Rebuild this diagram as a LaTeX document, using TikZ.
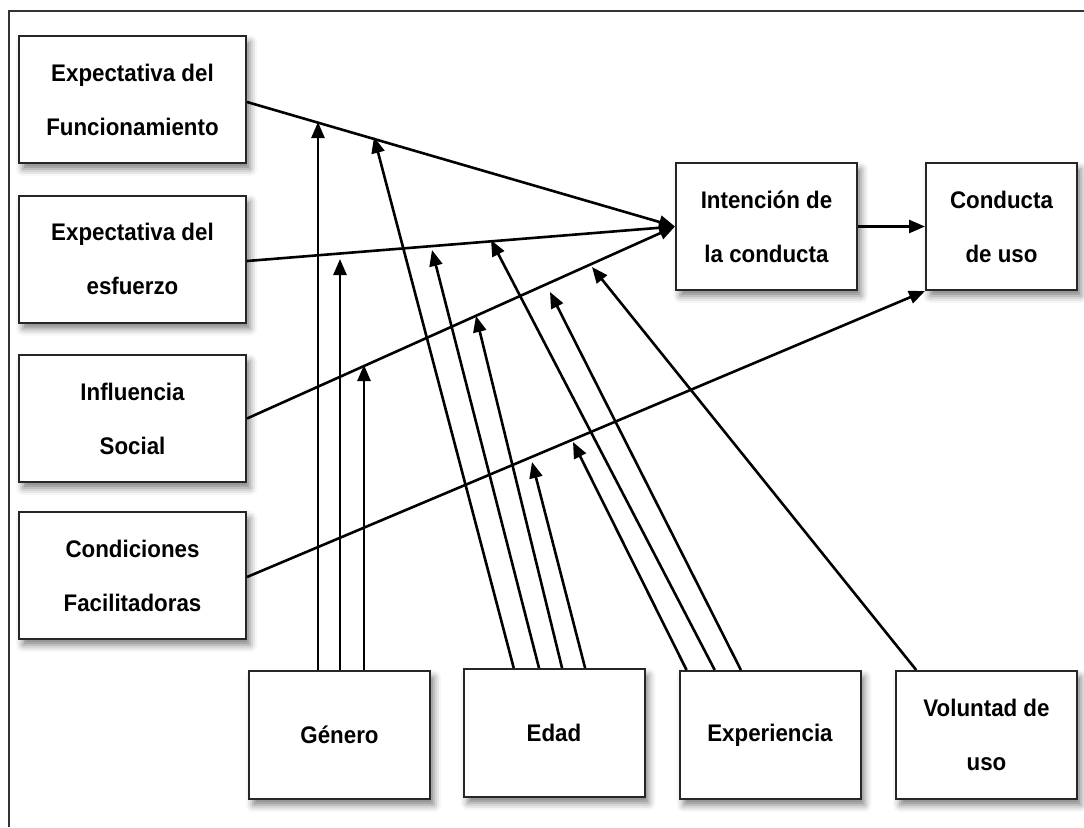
\documentclass[tikz,border=0pt]{standalone}
\usepackage{fontspec}
\setmainfont{Liberation Sans}[FakeStretch=0.93]
\usetikzlibrary{arrows.meta,calc,shadows.blur}
\begin{document}
\begin{tikzpicture}[x=0.5pt,y=-0.5pt,
  box/.style={draw=black!85, line width=1pt, fill=white, align=center,
    font=\bfseries\fontsize{12}{27}\selectfont, inner sep=0pt,
    blur shadow={shadow xshift=2pt,shadow yshift=-3pt,shadow blur radius=3.5pt,shadow opacity=50}},
  lbox/.style={box, minimum width=113.5pt, minimum height=63.5pt},
  bbox/.style={box, minimum width=90.5pt, minimum height=64pt},
  arr/.style={line width=1.3pt, -{Triangle[length=8pt,width=6.5pt]}},
]
\useasboundingbox (0,0) rectangle (1084,827);
\draw[line width=1pt, black!80] (1084,11) -- (9,11) -- (9,827);

% nodes
\node[lbox] (f)  at (132.5,99.5)  {Expectativa del\\Funcionamiento};
\node[lbox] (es) at (132.5,259)   {Expectativa del\\esfuerzo};
\node[lbox] (is) at (132.5,418.5) {Influencia\\Social};
\node[lbox] (cf) at (132.5,575.5) {Condiciones\\Facilitadoras};
\node[box, minimum width=90.5pt, minimum height=63.5pt] (int) at (766.5,226.5) {Intención de\\la conducta};
\node[box, minimum width=75.5pt, minimum height=63.5pt] (cu) at (1001.5,226.5) {Conducta\\de uso};
\node[bbox] (gen)  at (339.5,735) {Género};
\node[bbox] (edad) at (554,733)   {Edad};
\node[bbox] (exp)  at (770,735)   {Experiencia};
\node[bbox] (vol)  at (986.5,735) {Voluntad de\\uso};

% main connectors
\draw[arr] ([yshift=-1.25pt]f.east) -- (int.west);
\draw[arr] ([yshift=-1pt]es.east) -- (int.west);
\draw[arr] (is.east) -- (int.west);
\draw[arr] ([yshift=-0.75pt]cf.east) -- (cu.south west);
\draw[arr] (int.east) -- (cu.west);

% tips of moderator arrows
\coordinate (g1) at (318,122);
\coordinate (g2) at (340,259);
\coordinate (g3) at (364,365);
\coordinate (e1) at (374,137);
\coordinate (e2) at (432,250);
\coordinate (e3) at (476,316);
\coordinate (e4) at (532,462);
\coordinate (x1) at (573,442);
\coordinate (x2) at (491,240);
\coordinate (x3) at (550,292);
\coordinate (v1) at (592,267);

% moderator connectors
\draw[arr] (gen.north -| g1) -- (g1);
\draw[arr] (gen.north -| g2) -- (g2);
\draw[arr] (gen.north -| g3) -- (g3);
\draw[arr] ($(edad.north west)!0.28!(edad.north east)$) -- (e1);
\draw[arr] ($(edad.north west)!0.418!(edad.north east)$) -- (e2);
\draw[arr] ($(edad.north west)!0.544!(edad.north east)$) -- (e3);
\draw[arr] ($(edad.north west)!0.67!(edad.north east)$) -- (e4);
\draw[arr] ($(exp.north west)!0.044!(exp.north east)$) -- (x1);
\draw[arr] ($(exp.north west)!0.198!(exp.north east)$) -- (x2);
\draw[arr] ($(exp.north west)!0.341!(exp.north east)$) -- (x3);
\draw[arr] ($(vol.north west)!0.116!(vol.north east)$) -- (v1);
\end{tikzpicture}
\end{document}
